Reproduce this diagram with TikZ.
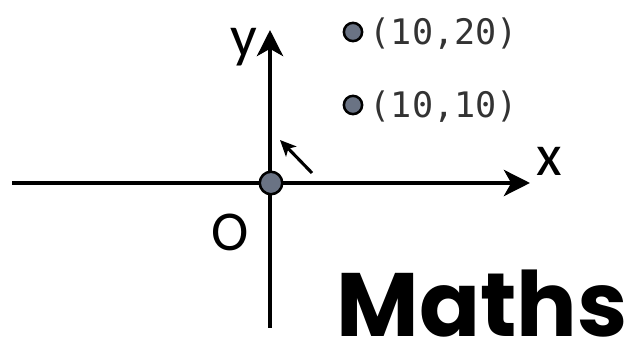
\documentclass[tikz,border=0pt]{standalone}
\usepackage{fontspec}
\setmainfont{Carlito}
\newfontfamily\coordfont{DejaVu Sans Mono}
\newfontfamily\titlefont{Poppins}
\usetikzlibrary{arrows.meta, positioning}
\definecolor{dotgray}{RGB}{106,115,132}

\begin{document}
\begin{tikzpicture}[x=0.025cm, y=-0.025cm,
    axis/.style={line width=3.2pt, -{Stealth[length=6.5mm, width=6.5mm, inset=1.8mm]}},
    pt/.style={circle, draw=black, line width=1.8pt, fill=dotgray, inner sep=0pt, minimum size=13pt},
    ptlabel/.style={right, font=\coordfont\fontsize{25}{25}\selectfont, text=black!80, inner sep=1pt}]
    \useasboundingbox (0,0) rectangle (634,352);

    % axes
    \coordinate (xl) at (12,183);
    \coordinate (xr) at (530,183);
    \coordinate (yb) at (270,328);
    \coordinate (yt) at (270,30);
    \draw[axis] (xl) -- (xr);
    \draw[axis] (yb) -- (yt);

    % axis labels
    \node[font=\fontsize{42}{42}\selectfont] (xlab) at (549,161) {x};
    \node[font=\fontsize{42}{42}\selectfont] (ylab) at (244,47) {y};
    \node[font=\fontsize{40}{40}\selectfont] (olab) at (230,232) {O};

    % origin
    \node[pt, minimum size=16pt] (orig) at (271,183) {};

    % small arrow
    \coordinate (sa) at (312,173);
    \coordinate (sb) at (280,140);
    \draw[line width=2.2pt, -{Stealth[length=4mm, width=3.6mm, inset=1mm]}] (sa) -- (sb);

    % points
    \node[pt] (p1) at (353,32) {};
    \node[ptlabel] (l1) at (368,34) {(10,20)};
    \node[pt] (p2) at (353,105) {};
    \node[ptlabel] (l2) at (368,107) {(10,10)};

    % title
    \node[font=\titlefont\bfseries\fontsize{64}{64}\selectfont, anchor=base east, inner sep=0pt, text depth=0pt] (title) at (628,337) {Maths};
\end{tikzpicture}
\end{document}
